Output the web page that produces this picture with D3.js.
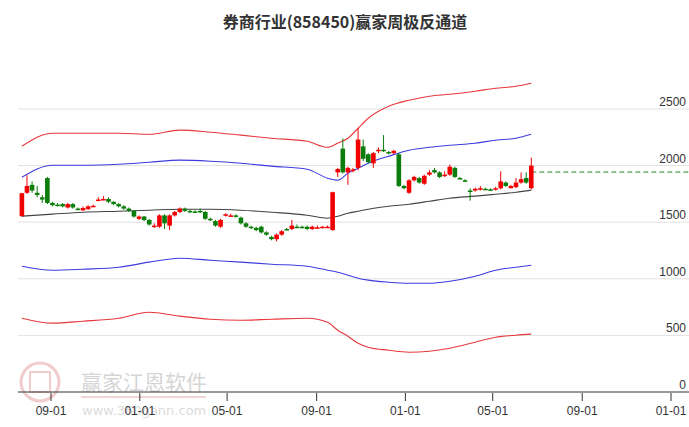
<!DOCTYPE html>
<html><head><meta charset="utf-8">
<script src="https://cdn.jsdelivr.net/npm/d3@7/dist/d3.min.js"></script>
<style>body{margin:0;background:#fff}svg{display:block}</style>
</head><body><svg id="c" width="689" height="427"></svg>
<script>
const startDate = "2020-07-23";
const open  = [1553,1760,1830,1760,1720,1890,1670,1655,1660,1630,1660,1620,1605,1615,1640,1690,1700,1705,1680,1660,1640,1620,1600,1530,1550,1520,1470,1460,1560,1470,1560,1590,1620,1600,1595,1600,1590,1530,1510,1460,1560,1560,1560,1540,1490,1460,1450,1460,1410,1370,1350,1390,1440,1440,1460,1460,1460,1440,1450,1450,1455,1430,1940,2150,1940,1960,1980,2170,2100,2020,2130,2140,2120,2110,2100,1820,1760,1870,1890,1840,1920,1960,1940,1910,1920,1980,1890,1870,1780,1780,1790,1795,1790,1790,1800,1850,1800,1810,1850,1890,1800];
const close = [1756,1820,1780,1740,1700,1670,1650,1650,1640,1660,1630,1615,1625,1640,1645,1700,1705,1680,1660,1640,1620,1600,1550,1550,1520,1480,1470,1560,1490,1560,1590,1620,1600,1590,1590,1590,1530,1520,1470,1520,1570,1560,1550,1490,1460,1450,1430,1410,1390,1350,1390,1420,1435,1470,1458,1455,1440,1460,1455,1460,1460,1765,1970,1940,1980,1965,2230,2060,2030,2110,2140,2130,2110,2130,1820,1800,1870,1900,1850,1910,1940,1940,1900,1920,1990,1900,1885,1865,1778,1795,1800,1790,1785,1800,1860,1820,1820,1850,1880,1850,2000];
const high  = [1760,1915,1860,1820,1740,1900,1680,1670,1670,1670,1670,1630,1640,1650,1655,1720,1730,1720,1685,1670,1650,1630,1605,1560,1555,1530,1490,1570,1570,1570,1600,1630,1630,1610,1605,1620,1600,1540,1520,1530,1580,1575,1570,1550,1500,1470,1460,1470,1420,1380,1400,1430,1450,1520,1480,1470,1470,1470,1470,1465,1470,1770,1980,2240,1990,1980,2330,2230,2110,2120,2160,2270,2130,2140,2110,1830,1880,1910,1900,1920,1960,1980,1950,1950,2010,1990,1900,1880,1800,1805,1820,1805,1800,1810,1950,1860,1830,1890,1940,1940,2070];
const low   = [1550,1750,1760,1720,1670,1660,1640,1640,1630,1620,1620,1605,1600,1610,1635,1685,1695,1670,1650,1630,1610,1590,1540,1520,1510,1470,1450,1450,1440,1430,1550,1580,1590,1580,1585,1580,1520,1510,1460,1450,1550,1550,1540,1480,1450,1440,1420,1400,1380,1340,1330,1380,1425,1430,1450,1445,1430,1430,1445,1445,1450,1425,1900,1930,1830,1940,1960,2040,2020,1980,2110,2120,2100,2100,1810,1790,1750,1860,1840,1830,1910,1930,1890,1900,1910,1890,1880,1855,1690,1770,1780,1785,1780,1780,1790,1810,1800,1800,1840,1840,1790];
const bandWeek = [0,6,12,19,25,31,37,43,49,56,60,62,64,66,68,72,76,80,84,89,93,97,100];
const upperOuter = [2171,2286,2286,2286,2277,2313,2295,2269,2242,2215,2162,2198,2242,2330,2418,2524,2577,2613,2630,2657,2683,2701,2728];
const upperInner = [1897,2003,2003,2012,2030,2048,2039,2021,1995,1968,1889,1871,1933,1977,2021,2083,2136,2162,2180,2198,2224,2242,2277];
const middle     = [1553,1571,1588,1597,1606,1615,1615,1606,1588,1562,1535,1553,1579,1597,1615,1641,1659,1685,1712,1730,1747,1765,1783];
const lowerInner = [1111,1076,1085,1102,1147,1182,1164,1147,1129,1111,1076,1058,1032,1005,988,970,961,961,979,1023,1076,1102,1120];
const lowerOuter = [652,608,625,652,705,670,643,634,643,652,617,546,493,431,396,369,351,360,387,440,484,502,511];
const lastLevel = 1943;
const yTicks = [0,500,1000,1500,2000,2500];
const xTicks = ["2020-09-01","2021-01-01","2021-05-01","2021-09-01","2022-01-01","2022-05-01","2022-09-01","2023-01-01"];

const svg = d3.select("#c");
const parse = d3.timeParse("%Y-%m-%d");
const t0 = parse(startDate);
const dates = open.map((_, i) => d3.timeDay.offset(t0, i * 7));
const x = d3.scaleTime().domain([parse(xTicks[0]), parse(xTicks[7])]).range([51, 671]);
const y = d3.scaleLinear().domain([0, 2500]).range([392, 109]);
const L = 18, R = 689;

const wm = svg.append("g").attr("opacity", 0.35);
wm.append("circle").attr("cx", 40).attr("cy", 382).attr("r", 19).attr("fill", "none").attr("stroke", "#d87070").attr("stroke-width", 3);
wm.append("rect").attr("x", 30).attr("y", 372).attr("width", 20).attr("height", 20).attr("fill", "none").attr("stroke", "#d87070").attr("stroke-width", 2);
wm.append("text").attr("x", 81).attr("y", 390).text("赢家江恩软件").attr("font-size", 21).attr("fill", "#888").attr("font-family", "Noto Sans CJK SC");
wm.append("line").attr("x1", 81).attr("x2", 206).attr("y1", 397).attr("y2", 397).attr("stroke", "#c66").attr("stroke-width", 1.5);
wm.append("text").attr("x", 82).attr("y", 415).text("www.360gann.com").attr("font-size", 13).attr("fill", "#999").attr("font-family", "DejaVu Sans");

svg.append("g").selectAll("line").data(yTicks.filter(d => d > 0)).join("line")
  .attr("x1", L).attr("x2", R).attr("y1", d => y(d)).attr("y2", d => y(d))
  .attr("stroke", "#e2e2e2");
svg.append("g").selectAll("text").data(yTicks).join("text")
  .attr("x", 686).attr("y", d => y(d) - 3).attr("text-anchor", "end")
  .attr("font-size", 12).attr("fill", "#333").attr("font-family", "Arial, Liberation Sans").text(d => d);

const xa = svg.append("g").attr("transform", "translate(0,392)");
xa.append("line").attr("x1", L).attr("x2", R).attr("stroke", "#333");
xa.selectAll("line.t").data(xTicks).join("line").attr("class", "t")
  .attr("x1", d => x(parse(d))).attr("x2", d => x(parse(d))).attr("y1", 1).attr("y2", 9).attr("stroke", "#333");
xa.selectAll("text").data(xTicks).join("text")
  .attr("x", d => x(parse(d))).attr("y", 23).attr("text-anchor", "middle")
  .attr("font-size", 12).attr("fill", "#333").attr("font-family", "Arial, Liberation Sans")
  .text(d => d3.timeFormat("%m-%d")(parse(d)));

const bDates = bandWeek.map(w => dates[w]);
const line = d3.line().x((d, i) => x(bDates[i])).y(d => y(d)).curve(d3.curveMonotoneX);
[[upperOuter, "#e8383d"], [upperInner, "#3c3ce0"], [middle, "#444"], [lowerInner, "#3c3ce0"], [lowerOuter, "#e8383d"]]
  .forEach(([arr, c]) => svg.append("path").attr("d", line(arr)).attr("fill", "none").attr("stroke", c).attr("stroke-width", 1.1));

svg.append("line").attr("x1", x(dates[dates.length - 1])).attr("x2", R)
  .attr("y1", y(lastLevel)).attr("y2", y(lastLevel))
  .attr("stroke", "#2a8a2a").attr("stroke-dasharray", "5,3");

const g = svg.append("g");
const col = i => close[i] >= open[i] ? "#f00000" : "#0a7d0a";
const w = 4.6;
g.selectAll("line").data(open).join("line")
  .attr("x1", (d, i) => x(dates[i])).attr("x2", (d, i) => x(dates[i]))
  .attr("y1", (d, i) => y(high[i])).attr("y2", (d, i) => y(low[i]))
  .attr("stroke", (d, i) => col(i));
g.selectAll("rect").data(open).join("rect")
  .attr("x", (d, i) => x(dates[i]) - w / 2).attr("width", w)
  .attr("y", (d, i) => y(Math.max(open[i], close[i])))
  .attr("height", (d, i) => Math.max(1.5, Math.abs(y(open[i]) - y(close[i]))))
  .attr("fill", (d, i) => col(i));

svg.append("text").attr("x", 345).attr("y", 28).attr("text-anchor", "middle")
  .attr("font-size", 16).attr("font-weight", "bold").attr("fill", "#333")
  .attr("font-family", "Noto Sans CJK SC").text("券商行业(858450)赢家周极反通道");
</script></body></html>
